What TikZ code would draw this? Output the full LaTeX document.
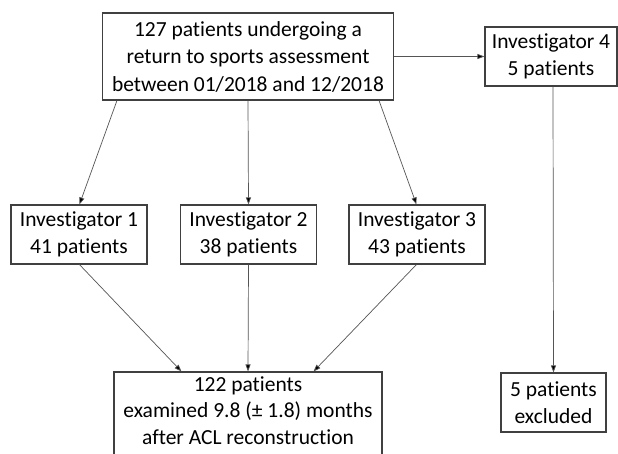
\documentclass[tikz,border=0pt]{standalone}
\usepackage{fontspec}
\setmainfont[Ligatures={NoCommon}]{Carlito}
\usetikzlibrary{arrows.meta}
\definecolor{boxgray}{HTML}{404040}
\definecolor{linegray}{HTML}{555555}
\begin{document}
\begin{tikzpicture}[x=1pt,y=-1pt,
  box/.style={draw=boxgray, line width=1.1pt, inner sep=0pt, align=center,
    font=\fontsize{21.5}{27.5}\selectfont, text=black},
  conn/.style={draw=linegray, line width=0.7pt, -{Triangle[length=7pt,width=5pt,fill=black]}}]
\useasboundingbox (0,0) rectangle (618,453);
\clip (0,0) rectangle (618,453);
\fill[white] (0,0) rectangle (618,453);
\node[box, minimum width=291pt, minimum height=87pt] (top) at (248,56.5)
  {127 patients undergoing a\\return to sports assessment\\between 01/2018 and 12/2018};
\node[box, minimum width=132pt, minimum height=59pt] (inv4) at (551,56.5)
  {Investigator 4\\5 patients};
\node[box, minimum width=136pt, minimum height=59pt] (inv1) at (79,234.5)
  {Investigator 1\\41 patients};
\node[box, minimum width=136pt, minimum height=59pt] (inv2) at (248.5,234.5)
  {Investigator 2\\38 patients};
\node[box, minimum width=136pt, minimum height=59pt] (inv3) at (417,234.5)
  {Investigator 3\\43 patients};
\node[box, minimum width=268pt, minimum height=86pt, text depth=9pt,
  font=\fontsize{21.5}{26.5}\selectfont] (res) at (248,415)
  {122 patients\\examined 9.8 (± 1.8) months\\after ACL reconstruction};
\node[box, minimum width=105pt, minimum height=59pt] (excl) at (553.5,402.5)
  {5 patients\\excluded};
\draw[conn] (top.east) -- (inv4.west);
\draw[conn] ([xshift=15pt]top.south west) -- ([xshift=69pt]inv1.north west);
\draw[conn] (top.south) -- (inv2.north);
\draw[conn] ([xshift=-15pt]top.south east) -- ([xshift=68pt]inv3.north west);
\draw[conn] ([xshift=69pt]inv1.south west) -- ([xshift=68pt]res.north west);
\draw[conn] (inv2.south) -- (res.north);
\draw[conn] ([xshift=68pt]inv3.south west) -- ([xshift=-69pt]res.north east);
\draw[conn] ([xshift=2pt]inv4.south) -- (excl.north);
\end{tikzpicture}
\end{document}
